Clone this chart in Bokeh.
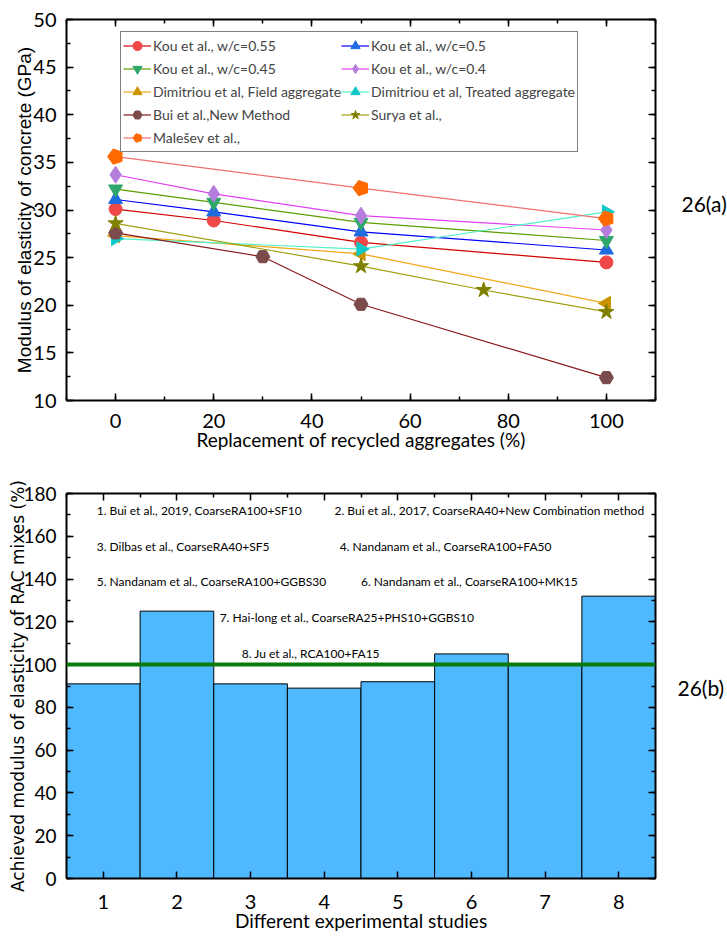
import math
from bokeh.plotting import figure
from bokeh.models import (Range1d, LinearAxis, SingleIntervalTicker, FixedTicker,
                          Legend, LegendItem, Label, Span, CustomJSTickFormatter)
from bokeh.layouts import column, row
from bokeh.embed import file_html
from bokeh.resources import INLINE

NARROW = "Lato"
REG = "Liberation Sans"
WIDE = "DejaVu Sans"

# ---------------- data: 26(a) ----------------
kou_x = [0, 20, 50, 100]
kou055_y = [30.1, 28.9, 26.6, 24.5]
kou05_y = [31.1, 29.8, 27.7, 25.8]
kou045_y = [32.2, 30.8, 28.7, 26.8]
kou04_y = [33.7, 31.7, 29.4, 27.9]
dim_x = [0, 50, 100]
dim_field_y = [27.3, 25.4, 20.2]
dim_treated_y = [27.0, 25.9, 29.8]
bui_x = [0, 30, 50, 100]
bui_y = [27.6, 25.1, 20.1, 12.4]
surya_x = [0, 50, 75, 100]
surya_y = [28.6, 24.1, 21.6, 19.3]
malesev_x = [0, 50, 100]
malesev_y = [35.6, 32.3, 29.1]

series_a = [
    ("Kou et al., w/c=0.55", kou_x, kou055_y),
    ("Kou et al., w/c=0.5", kou_x, kou05_y),
    ("Kou et al., w/c=0.45", kou_x, kou045_y),
    ("Kou et al., w/c=0.4", kou_x, kou04_y),
    ("Dimitriou et al, Field aggregate", dim_x, dim_field_y),
    ("Dimitriou et al, Treated aggregate", dim_x, dim_treated_y),
    ("Bui et al.,New Method", bui_x, bui_y),
    ("Surya et al.,", surya_x, surya_y),
    ("Malešev et al.,", malesev_x, malesev_y),
]
# legend is filled column by column: left column first, then right column
legend_order = [0, 2, 4, 6, 8, 1, 3, 5, 7]

# ---------------- data: 26(b) ----------------
studies = [1, 2, 3, 4, 5, 6, 7, 8]
achieved = [91, 125, 91, 89, 92, 105, 100, 132]
reference_level = 100
study_notes = [
    "1. Bui et al., 2019, CoarseRA100+SF10",
    "2. Bui et al., 2017, CoarseRA40+New Combination method",
    "3. Dilbas et al., CoarseRA40+SF5",
    "4. Nandanam et al., CoarseRA100+FA50",
    "5. Nandanam et al., CoarseRA100+GGBS30",
    "6. Nandanam et al., CoarseRA100+MK15",
    "7. Hai-long et al., CoarseRA25+PHS10+GGBS10",
    "8. Ju et al., RCA100+FA15",
]

# ---------------- styles ----------------
styles = [
    # marker, marker color, line color, angle, size
    ("circle", "#F04848", "#D40000", 0, 13),
    ("triangle", "#1F6BE0", "#0000FF", 0, 14),
    ("inverted_triangle", "#2EA86A", "#5A9E00", 0, 14),
    ("diamond", "#B57EDC", "#E040F0", 0, 17),
    ("triangle", "#C99400", "#F0A818", math.pi / 2, 14),
    ("triangle", "#10C8C8", "#50F0C8", -math.pi / 2, 14),
    ("hex", "#7B4B4B", "#8B1A1A", 0, 14),
    ("star", "#808000", "#A0A010", 0, 16),
    ("pentagon", "#FF6A00", "#F07070", 0, 8),
]

blank = CustomJSTickFormatter(code="return ''")


def style_axis(ax, show_labels=True, font_size="20px"):
    ax.axis_line_width = 2
    ax.axis_line_color = "black"
    ax.major_tick_in = 7
    ax.major_tick_out = 0
    ax.minor_tick_in = 4
    ax.minor_tick_out = 0
    ax.major_tick_line_width = 1.5
    ax.minor_tick_line_width = 1.5
    ax.major_label_text_font = NARROW
    ax.major_label_text_font_size = font_size
    ax.major_label_text_color = "black"
    ax.axis_label_text_font_style = "normal"
    ax.axis_label_text_color = "black"
    if not show_labels:
        ax.formatter = blank
        ax.major_label_standoff = 0


# ================= figure (a) =================
H1 = 455
p1 = figure(width=660, height=H1, x_range=Range1d(-10, 110), y_range=Range1d(10, 50),
            output_backend="svg", toolbar_location=None,
            min_border_left=66, min_border_right=5, min_border_top=19, min_border_bottom=55)
p1.grid.visible = False
p1.outline_line_color = None

xt1 = SingleIntervalTicker(interval=20, num_minor_ticks=2)
yt1 = SingleIntervalTicker(interval=5, num_minor_ticks=2)
p1.xaxis[0].ticker = xt1
p1.yaxis[0].ticker = yt1
style_axis(p1.xaxis[0])
style_axis(p1.yaxis[0])
p1.xaxis[0].axis_label = "Replacement of recycled aggregates (%)"
p1.xaxis[0].axis_label_text_font = NARROW
p1.xaxis[0].axis_label_text_font_size = "19px"
p1.xaxis[0].major_label_standoff = 13
p1.xaxis[0].axis_label_standoff = -3
p1.yaxis[0].axis_label = "Modulus of elasticity of concrete (GPa)"
p1.yaxis[0].axis_label_text_font = REG
p1.yaxis[0].axis_label_text_font_size = "19px"
p1.yaxis[0].major_label_standoff = 10
p1.yaxis[0].axis_label_standoff = -5

top1 = LinearAxis(ticker=xt1)
style_axis(top1, show_labels=False)
p1.add_layout(top1, "above")
right1 = LinearAxis(ticker=yt1)
style_axis(right1, show_labels=False)
p1.add_layout(right1, "right")

items = []
for (name, xs, ys), (mk, mc, lc, ang, sz) in zip(series_a, styles):
    ln = p1.line(xs, ys, line_color=lc, line_width=1.2)
    if mk == "pentagon" and hasattr(p1, "ngon"):
        sc = p1.ngon(x=xs, y=ys, radius=sz, radius_units="screen", n=5, angle=math.pi / 2,
                     fill_color=mc, line_color=mc)
    elif mk == "pentagon":
        sc = p1.scatter(xs, ys, marker="hex", size=15, fill_color=mc, line_color=mc)
    else:
        sc = p1.scatter(xs, ys, marker=mk, size=sz, angle=ang, fill_color=mc, line_color=mc)
    items.append(LegendItem(label=name, renderers=[ln, sc]))

legend = Legend(items=[items[i] for i in legend_order], ncols=2, location=(54, 248),
                label_text_font=NARROW, label_text_font_size="14px",
                glyph_width=28, glyph_height=23, label_height=20, spacing=0,
                label_standoff=2, padding=2, margin=0,
                border_line_color="black", border_line_width=1,
                background_fill_color="white", background_fill_alpha=1)
p1.add_layout(legend, "center")

# ================= figure (b) =================
H2 = 484
p2 = figure(width=660, height=H2, x_range=Range1d(0.5, 8.5), y_range=Range1d(0, 180),
            output_backend="svg", toolbar_location=None,
            min_border_left=66, min_border_right=3, min_border_top=38, min_border_bottom=61)
p2.grid.visible = False
p2.outline_line_color = None

p2.vbar(x=studies, top=achieved, width=1, fill_color="#4FB9FF", line_color="black", line_width=1)
p2.add_layout(Span(location=reference_level, dimension="width", line_color="#0A7A0A", line_width=4))

xt2 = FixedTicker(ticks=studies, minor_ticks=[s - 0.5 for s in studies] + [studies[-1] + 0.5])
yt2 = SingleIntervalTicker(interval=20, num_minor_ticks=2)
p2.xaxis[0].ticker = FixedTicker(ticks=studies)
p2.yaxis[0].ticker = yt2
style_axis(p2.xaxis[0])
style_axis(p2.yaxis[0], font_size="19px")
p2.xaxis[0].axis_label = "Different experimental studies"
p2.xaxis[0].axis_label_text_font = NARROW
p2.xaxis[0].axis_label_text_font_size = "19px"
p2.xaxis[0].major_label_standoff = 16
p2.xaxis[0].axis_label_standoff = -3
p2.yaxis[0].axis_label = "Achieved modulus of elasticity of RAC mixes (%)"
p2.yaxis[0].axis_label_text_font = WIDE
p2.yaxis[0].axis_label_text_font_size = "17px"
p2.yaxis[0].major_label_standoff = 10
p2.yaxis[0].axis_label_standoff = -8

top2 = LinearAxis(ticker=xt2)
style_axis(top2, show_labels=False)
p2.add_layout(top2, "above")
right2 = LinearAxis(ticker=yt2)
style_axis(right2, show_labels=False)
p2.add_layout(right2, "right")

note_pos = [(0.91, 172), (4.14, 172), (0.91, 155), (4.21, 155),
            (0.91, 139), (4.5, 139), (2.58, 122), (2.88, 105)]
for txt, (nx, ny) in zip(study_notes, note_pos):
    p2.add_layout(Label(x=nx, y=ny, text=txt, text_font=NARROW, text_font_size="12px",
                        text_baseline="middle", text_color="black"))

# ================= side panels with figure tags =================
def side_panel(h, tag, lx, ly):
    s = figure(width=67, height=h, x_range=Range1d(0, 1), y_range=Range1d(0, 1),
               output_backend="svg", toolbar_location=None,
               x_axis_location=None, y_axis_location=None, min_border=0)
    s.grid.visible = False
    s.outline_line_color = None
    s.add_layout(Label(x=lx, y=ly, x_units="screen", y_units="screen", text=tag,
                       text_font=NARROW, text_font_size="21px", text_baseline="middle",
                       text_color="black"))
    return s


s1 = side_panel(H1, "26(a)", 21, H1 - 203)
s2 = side_panel(H2, "26(b)", 17, H2 - 232)

layout = row(column(p1, p2, spacing=0), column(s1, s2, spacing=0), spacing=0)
open("out.html", "w").write(file_html(layout, INLINE))
